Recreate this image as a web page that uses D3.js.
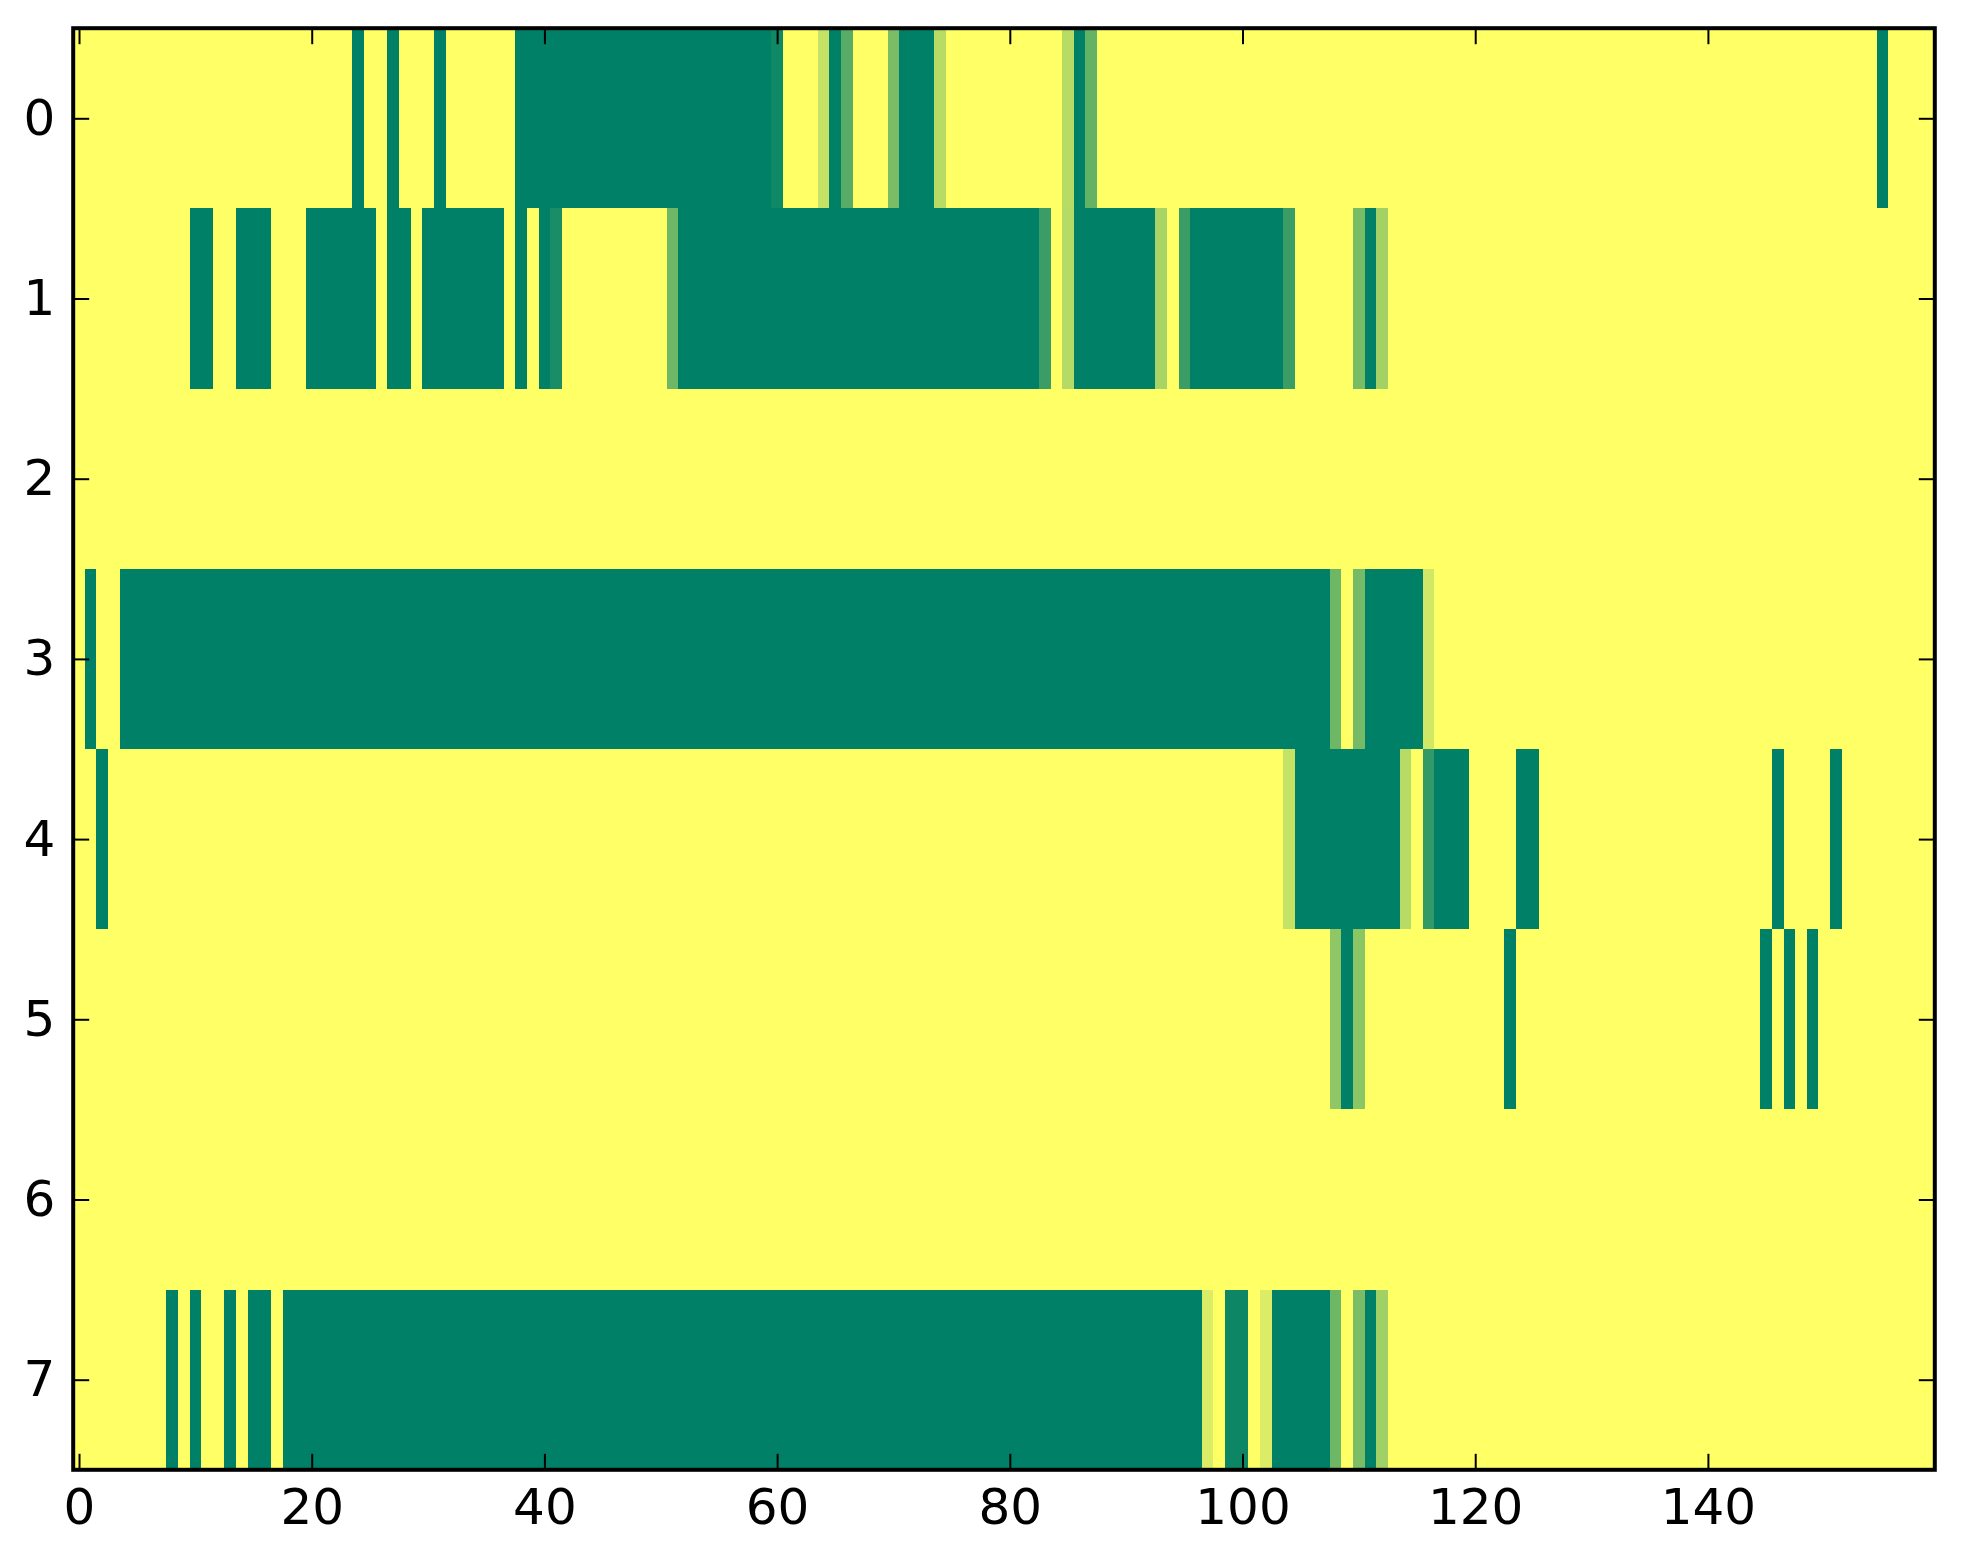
<!DOCTYPE html>
<html>
<head>
<meta charset="utf-8">
<script src="https://cdn.jsdelivr.net/npm/d3@7"></script>
<style>
  html, body { margin: 0; padding: 0; background: #ffffff; }
  svg { display: block; }
  .tick text { font-family: "DejaVu Sans", sans-serif; font-size: 50px; fill: #000; }
</style>
</head>
<body>
<script>
// ---- data (value 1 = yellow, 0 = dark green; summer colormap) ----
const rowLabels = [0, 1, 2, 3, 4, 5, 6, 7];
const xTickValues = [0, 20, 40, 60, 80, 100, 120, 140];
const nCols = 160;

const row0 = [
  1,1,1,1,1,1,1,1,1,1, 1,1,1,1,1,1,1,1,1,1,   // 0-19
  1,1,1,1,0,1,1,0,1,1, 1,0,1,1,1,1,1,1,0,0,   // 20-39
  0,0,0,0,0,0,0,0,0,0, 0,0,0,0,0,0,0,0,0,0,   // 40-59
  0.06,1,1,1,0.77,0,0.35,1,1,1, 0.48,0,0,0,0.72,1,1,1,1,1, // 60-79
  1,1,1,1,1,0.72,0,0.39,1,1, 1,1,1,1,1,1,1,1,1,1, // 80-99
  1,1,1,1,1,1,1,1,1,1, 1,1,1,1,1,1,1,1,1,1,   // 100-119
  1,1,1,1,1,1,1,1,1,1, 1,1,1,1,1,1,1,1,1,1,   // 120-139
  1,1,1,1,1,1,1,1,1,1, 1,1,1,1,1,0,1,1,1,1    // 140-159
];
const row1 = [
  1,1,1,1,1,1,1,1,1,1, 0,0,1,1,0,0,0,1,1,1,   // 0-19
  0,0,0,0,0,0,1,0,0,1, 0,0,0,0,0,0,0,1,0,1,   // 20-39
  0,0.1,1,1,1,1,1,1,1,1, 1,0.43,0,0,0,0,0,0,0,0, // 40-59
  0,0,0,0,0,0,0,0,0,0, 0,0,0,0,0,0,0,0,0,0,   // 60-79
  0,0,0,0.23,1,0.71,0,0,0,0, 0,0,0,0.66,1,0.23,0,0,0,0, // 80-99
  0,0,0,0,0.23,1,1,1,1,1, 0.47,0,0.64,1,1,1,1,1,1,1, // 100-119
  1,1,1,1,1,1,1,1,1,1, 1,1,1,1,1,1,1,1,1,1,   // 120-139
  1,1,1,1,1,1,1,1,1,1, 1,1,1,1,1,1,1,1,1,1    // 140-159
];
const row2 = [
  1,1,1,1,1,1,1,1,1,1, 1,1,1,1,1,1,1,1,1,1,
  1,1,1,1,1,1,1,1,1,1, 1,1,1,1,1,1,1,1,1,1,
  1,1,1,1,1,1,1,1,1,1, 1,1,1,1,1,1,1,1,1,1,
  1,1,1,1,1,1,1,1,1,1, 1,1,1,1,1,1,1,1,1,1,
  1,1,1,1,1,1,1,1,1,1, 1,1,1,1,1,1,1,1,1,1,
  1,1,1,1,1,1,1,1,1,1, 1,1,1,1,1,1,1,1,1,1,
  1,1,1,1,1,1,1,1,1,1, 1,1,1,1,1,1,1,1,1,1,
  1,1,1,1,1,1,1,1,1,1, 1,1,1,1,1,1,1,1,1,1
];
const row3 = [
  1,0,1,1,0,0,0,0,0,0, 0,0,0,0,0,0,0,0,0,0,   // 0-19
  0,0,0,0,0,0,0,0,0,0, 0,0,0,0,0,0,0,0,0,0,   // 20-39
  0,0,0,0,0,0,0,0,0,0, 0,0,0,0,0,0,0,0,0,0,   // 40-59
  0,0,0,0,0,0,0,0,0,0, 0,0,0,0,0,0,0,0,0,0,   // 60-79
  0,0,0,0,0,0,0,0,0,0, 0,0,0,0,0,0,0,0,0,0,   // 80-99
  0,0,0,0,0,0,0,0,0.43,1, 0.46,0,0,0,0,0,0.82,1,1,1, // 100-119
  1,1,1,1,1,1,1,1,1,1, 1,1,1,1,1,1,1,1,1,1,   // 120-139
  1,1,1,1,1,1,1,1,1,1, 1,1,1,1,1,1,1,1,1,1    // 140-159
];
const row4 = [
  1,1,0,1,1,1,1,1,1,1, 1,1,1,1,1,1,1,1,1,1,   // 0-19
  1,1,1,1,1,1,1,1,1,1, 1,1,1,1,1,1,1,1,1,1,   // 20-39
  1,1,1,1,1,1,1,1,1,1, 1,1,1,1,1,1,1,1,1,1,   // 40-59
  1,1,1,1,1,1,1,1,1,1, 1,1,1,1,1,1,1,1,1,1,   // 60-79
  1,1,1,1,1,1,1,1,1,1, 1,1,1,1,1,1,1,1,1,1,   // 80-99
  1,1,1,1,0.77,0,0,0,0,0, 0,0,0,0,0.72,1,0.2,0,0,0, // 100-119
  1,1,1,1,0,0,1,1,1,1, 1,1,1,1,1,1,1,1,1,1,   // 120-139
  1,1,1,1,1,1,0,1,1,1, 1,0,1,1,1,1,1,1,1,1    // 140-159
];
const row5 = [
  1,1,1,1,1,1,1,1,1,1, 1,1,1,1,1,1,1,1,1,1,
  1,1,1,1,1,1,1,1,1,1, 1,1,1,1,1,1,1,1,1,1,
  1,1,1,1,1,1,1,1,1,1, 1,1,1,1,1,1,1,1,1,1,
  1,1,1,1,1,1,1,1,1,1, 1,1,1,1,1,1,1,1,1,1,
  1,1,1,1,1,1,1,1,1,1, 1,1,1,1,1,1,1,1,1,1,
  1,1,1,1,1,1,1,1,0.56,0, 0.54,1,1,1,1,1,1,1,1,1, // 100-119
  1,1,1,0,1,1,1,1,1,1, 1,1,1,1,1,1,1,1,1,1,   // 120-139
  1,1,1,1,1,0,1,0,1,0, 1,1,1,1,1,1,1,1,1,1    // 140-159
];
const row6 = [
  1,1,1,1,1,1,1,1,1,1, 1,1,1,1,1,1,1,1,1,1,
  1,1,1,1,1,1,1,1,1,1, 1,1,1,1,1,1,1,1,1,1,
  1,1,1,1,1,1,1,1,1,1, 1,1,1,1,1,1,1,1,1,1,
  1,1,1,1,1,1,1,1,1,1, 1,1,1,1,1,1,1,1,1,1,
  1,1,1,1,1,1,1,1,1,1, 1,1,1,1,1,1,1,1,1,1,
  1,1,1,1,1,1,1,1,1,1, 1,1,1,1,1,1,1,1,1,1,
  1,1,1,1,1,1,1,1,1,1, 1,1,1,1,1,1,1,1,1,1,
  1,1,1,1,1,1,1,1,1,1, 1,1,1,1,1,1,1,1,1,1
];
const row7 = [
  1,1,1,1,1,1,1,1,0,1, 0,1,1,0,1,0,0,1,0,0,   // 0-19
  0,0,0,0,0,0,0,0,0,0, 0,0,0,0,0,0,0,0,0,0,   // 20-39
  0,0,0,0,0,0,0,0,0,0, 0,0,0,0,0,0,0,0,0,0,   // 40-59
  0,0,0,0,0,0,0,0,0,0, 0,0,0,0,0,0,0,0,0,0,   // 60-79
  0,0,0,0,0,0,0,0,0,0, 0,0,0,0,0,0,0,0.86,1,0.05, // 80-99
  0.05,1,0.86,0,0,0,0,0,0.43,1, 0.48,0,0.63,1,1,1,1,1,1,1, // 100-119
  1,1,1,1,1,1,1,1,1,1, 1,1,1,1,1,1,1,1,1,1,   // 120-139
  1,1,1,1,1,1,1,1,1,1, 1,1,1,1,1,1,1,1,1,1    // 140-159
];
const rows = [row0, row1, row2, row3, row4, row5, row6, row7];

// ---- layout ----
const W = 1963, H = 1564;
const plotLeft = 73.2, plotRight = 1934.8, plotTop = 28.2, plotBottom = 1469.8;

const svg = d3.select("body").append("svg")
  .attr("width", W).attr("height", H);
svg.append("rect").attr("width", W).attr("height", H).attr("fill", "#ffffff");

const x = d3.scaleLinear().domain([-0.5, nCols - 0.5]).range([plotLeft, plotRight]);
const y = d3.scaleLinear().domain([-0.5, rowLabels.length - 0.5]).range([plotTop, plotBottom]);
const color = d3.scaleSequential(d3.interpolateRgb("#008066", "#ffff66")).domain([0, 1]);

const cells = [];
rows.forEach((r, ri) => r.forEach((v, ci) => cells.push({ r: ri, c: ci, v: v })));

svg.append("g").attr("shape-rendering", "crispEdges")
  .selectAll("rect").data(cells).join("rect")
  .attr("x", d => x(d.c - 0.5))
  .attr("y", d => y(d.r - 0.5))
  .attr("width", d => x(d.c + 0.5) - x(d.c - 0.5) + 0.5)
  .attr("height", d => y(d.r + 0.5) - y(d.r - 0.5) + 0.5)
  .attr("fill", d => color(d.v));

// ---- axes (inward ticks on all four sides) ----
const tickLen = 16;
function styleAxis(g) {
  g.select(".domain").remove();
  g.selectAll(".tick line").attr("stroke", "#000").attr("stroke-width", 2);
}
svg.append("g").attr("transform", `translate(0,${plotBottom})`)
  .call(d3.axisBottom(x).tickValues(xTickValues).tickSizeInner(-tickLen).tickSizeOuter(0).tickPadding(19))
  .call(styleAxis);
svg.append("g").attr("transform", `translate(0,${plotTop})`)
  .call(d3.axisTop(x).tickValues(xTickValues).tickSizeInner(-tickLen).tickSizeOuter(0).tickFormat(""))
  .call(styleAxis);
svg.append("g").attr("transform", `translate(${plotLeft},0)`)
  .call(d3.axisLeft(y).tickValues(rowLabels).tickSizeInner(-tickLen).tickSizeOuter(0).tickPadding(18))
  .call(styleAxis);
svg.append("g").attr("transform", `translate(${plotRight},0)`)
  .call(d3.axisRight(y).tickValues(rowLabels).tickSizeInner(-tickLen).tickSizeOuter(0).tickFormat(""))
  .call(styleAxis);

svg.selectAll(".tick text").attr("font-family", "DejaVu Sans").attr("font-size", 50).attr("fill", "#000");

// frame
svg.append("rect")
  .attr("x", plotLeft).attr("y", plotTop)
  .attr("width", plotRight - plotLeft).attr("height", plotBottom - plotTop)
  .attr("fill", "none").attr("stroke", "#000").attr("stroke-width", 4);
</script>
</body>
</html>
